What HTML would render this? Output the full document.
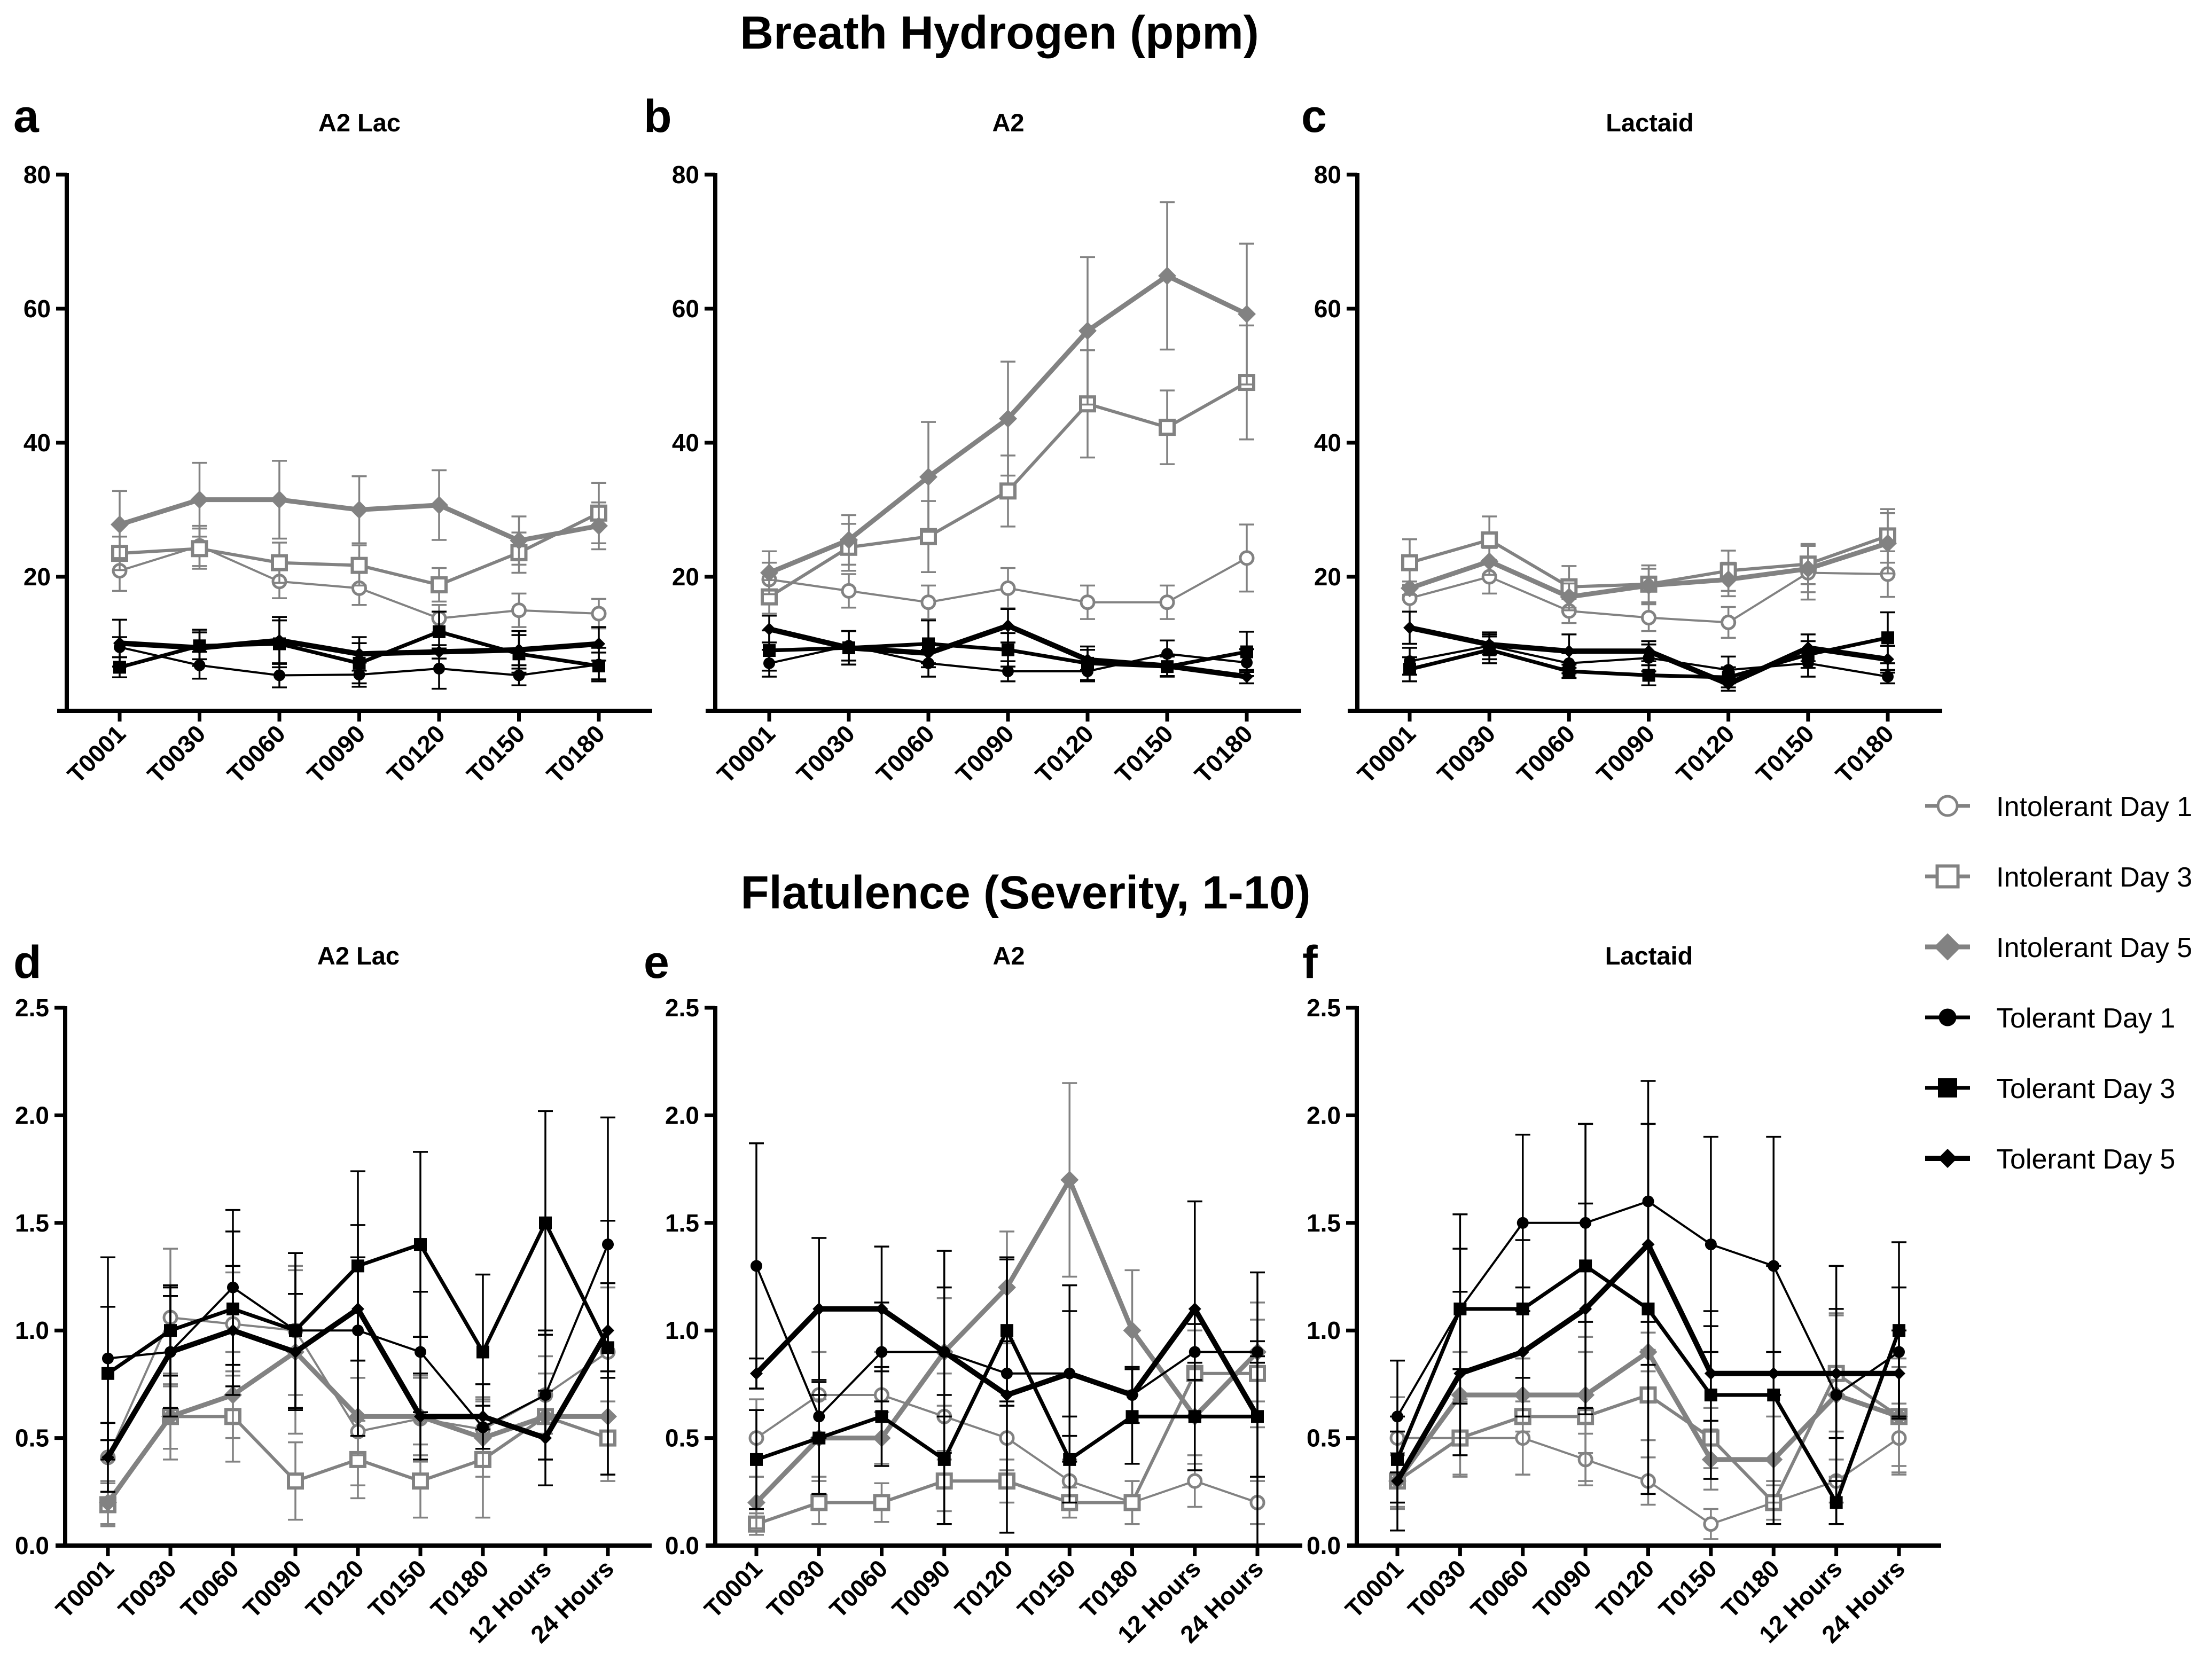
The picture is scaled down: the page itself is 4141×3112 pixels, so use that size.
<!DOCTYPE html>
<html><head><meta charset="utf-8"><style>
html,body{margin:0;padding:0;background:#fff;}
svg{display:block;font-family:"Liberation Sans",Arial,sans-serif;}
</style></head><body>
<svg id="chart" width="4141" height="3112" viewBox="0 0 4141 3112" xmlns="http://www.w3.org/2000/svg">
<rect width="4141" height="3112" fill="#fff"/>
<text x="1871" y="91" font-size="87" font-weight="bold" text-anchor="middle">Breath Hydrogen (ppm)</text>
<text x="1920" y="1701" font-size="87" font-weight="bold" text-anchor="middle">Flatulence (Severity, 1-10)</text>
<g id="panels"></g>
<g id="legend"></g>
</svg>
<script>
// ---- data ----
const hCategories = ["T0001","T0030","T0060","T0090","T0120","T0150","T0180"];
const fCategories = ["T0001","T0030","T0060","T0090","T0120","T0150","T0180","12 Hours","24 Hours"];
const hTicks = [20,40,60,80];
const fTicks = ["0.0","0.5","1.0","1.5","2.0","2.5"];
const seriesNames = ["Intolerant Day 1","Intolerant Day 3","Intolerant Day 5","Tolerant Day 1","Tolerant Day 3","Tolerant Day 5"];

// Panel a: A2 Lac breath hydrogen
const aIntD1 = [20.9,24.6,19.3,18.3,13.8,15.0,14.5];
const aIntD3 = [23.5,24.2,22.1,21.7,18.8,23.6,29.5];
const aIntD5 = [27.8,31.5,31.5,30.0,30.7,25.4,27.6];
const aTolD1 = [9.5,6.8,5.3,5.4,6.3,5.3,6.9];
const aTolD3 = [6.5,9.7,10.0,7.1,11.8,8.5,6.7];
const aTolD5 = [10.1,9.4,10.5,8.5,8.8,9.1,10.0];
const aErrI1 = [3,3,2.5,2.5,2,2.5,2.2];
const aErrI3 = [2.5,3,3,3,2.5,3,4.5];
const aErrI5 = [5,5.5,5.8,5,5.2,3.6,3.5];
const aErrT1 = [1.5,2,1.8,1.8,3,1.5,2.5];
const aErrT3 = [1.5,2,3.5,3,3,2.8,2];
const aErrT5 = [3.5,2.7,3.5,2.5,1,2.8,2.5];

// Panel b: A2 breath hydrogen
const bIntD1 = [19.6,17.9,16.2,18.3,16.2,16.2,22.8];
const bIntD3 = [17.0,24.4,26.0,32.8,45.8,42.3,49.0];
const bIntD5 = [20.6,25.5,34.9,43.6,56.7,64.9,59.2];
const bTolD1 = [7.1,9.7,7.1,5.9,5.9,8.5,7.2];
const bTolD3 = [9.0,9.4,10.0,9.1,7.1,6.6,8.8];
const bTolD5 = [12.2,9.4,8.6,12.7,7.6,6.7,5.1];
const bErrI1 = [2.5,2.5,2.5,3,2.5,2.5,5];
const bErrI3 = [2.5,3.5,5.3,5.3,8,5.5,8.5];
const bErrI5 = [3.2,3.7,8.2,8.5,11,11,10.5];
const bErrT1 = [2,2.2,2,1.5,1.5,2,2];
const bErrT3 = [3,2.5,3.5,2.5,2.5,1.5,3];
const bErrT5 = [2,2.5,1.5,2.5,1.5,1.5,1];

// Panel c: Lactaid breath hydrogen
const cIntD1 = [16.8,20.0,14.9,13.9,13.2,20.6,20.4];
const cIntD3 = [22.1,25.5,18.5,18.9,20.9,21.9,26.1];
const cIntD5 = [18.3,22.3,17.0,18.7,19.6,21.2,25.0];
const cTolD1 = [7.4,9.7,7.1,7.9,6.1,7.1,5.1];
const cTolD3 = [6.2,9.1,5.9,5.3,5.0,8.4,10.9];
const cTolD5 = [12.4,9.9,8.9,8.9,4.0,9.4,7.7];
const cErrI1 = [2,2.5,1.8,2,2.3,4,3.4];
const cErrI3 = [3.5,3.5,3.1,2.8,3,3,4];
const cErrI5 = [1,2,2,2.5,2.5,3.5,4.5];
const cErrT1 = [2,2,1.5,2,2,2,1];
const cErrT3 = [1.8,2,1,1.5,1.5,2,3.8];
const cErrT5 = [2.4,1.5,2.5,1.5,1,2,2];

// Panel d: A2 Lac flatulence
const dIntD1 = [0.41,1.06,1.03,1.0,0.53,0.59,0.54,0.7,0.9];
const dIntD3 = [0.19,0.6,0.6,0.3,0.4,0.3,0.4,0.6,0.5];
const dIntD5 = [0.2,0.6,0.7,0.9,0.6,0.6,0.5,0.6,0.6];
const dTolD1 = [0.87,0.9,1.2,1.0,1.0,0.9,0.55,0.7,1.4];
const dTolD3 = [0.8,1.0,1.1,1.0,1.3,1.4,0.9,1.5,0.92];
const dTolD5 = [0.41,0.9,1.0,0.9,1.1,0.6,0.6,0.5,1.0];
const dErrI1 = [0.16,0.32,0.24,0.3,0.25,0.2,0.15,0.18,0.3];
const dErrI3 = [0.1,0.2,0.21,0.18,0.18,0.17,0.27,0.2,0.17];
const dErrI5 = [0.1,0.15,0.2,0.38,0.18,0.18,0.18,0.2,0.3];
const dErrT1 = [0.47,0.26,0.36,0.36,0.49,0.28,0.1,0.3,0.59];
const dErrT3 = [0.31,0.21,0.36,0.36,0.44,0.43,0.36,0.52,0.59];
const dErrT5 = [0.16,0.3,0.3,0.27,0.24,0.2,0.15,0.22,0.22];

// Panel e: A2 flatulence
const eIntD1 = [0.5,0.7,0.7,0.6,0.5,0.3,0.2,0.3,0.2];
const eIntD3 = [0.1,0.2,0.2,0.3,0.3,0.2,0.2,0.8,0.8];
const eIntD5 = [0.2,0.5,0.5,0.9,1.2,1.7,1.0,0.6,0.9];
const eTolD1 = [1.3,0.6,0.9,0.9,0.8,0.8,0.7,0.9,0.9];
const eTolD3 = [0.4,0.5,0.6,0.4,1.0,0.4,0.6,0.6,0.6];
const eTolD5 = [0.8,1.1,1.1,0.9,0.7,0.8,0.7,1.1,0.6];
const eErrI1 = [0.18,0.2,0.2,0.2,0.15,0.1,0.1,0.12,0.1];
const eErrI3 = [0.05,0.1,0.09,0.14,0.1,0.07,0.1,0.2,0.25];
const eErrI5 = [0.12,0.18,0.12,0.25,0.26,0.45,0.28,0.22,0.23];
const eErrT1 = [0.57,0.1,0.23,0.3,0.15,0.29,0.13,0.13,0.05];
const eErrT3 = [0.23,0.26,0.23,0.3,0.33,0.2,0.22,0.25,0.67];
const eErrT5 = [0.07,0.33,0.29,0.47,0.64,0.41,0.13,0.5,0.28];

// Panel f: Lactaid flatulence
const fIntD1 = [0.5,0.5,0.5,0.4,0.3,0.1,0.2,0.3,0.5];
const fIntD3 = [0.3,0.5,0.6,0.6,0.7,0.5,0.2,0.8,0.6];
const fIntD5 = [0.3,0.7,0.7,0.7,0.9,0.4,0.4,0.7,0.6];
const fTolD1 = [0.6,1.1,1.5,1.5,1.6,1.4,1.3,0.7,0.9];
const fTolD3 = [0.4,1.1,1.1,1.3,1.1,0.7,0.7,0.2,1.0];
const fTolD5 = [0.3,0.8,0.9,1.1,1.4,0.8,0.8,0.8,0.8];
const fErrI1 = [0.19,0.17,0.17,0.12,0.11,0.07,0.08,0.1,0.16];
const fErrI3 = [0.12,0.18,0.27,0.3,0.21,0.14,0.1,0.27,0.27];
const fErrI5 = [0.13,0.2,0.17,0.27,0.09,0.14,0.2,0.38,0.23];
const fErrT1 = [0.26,0.44,0.41,0.46,0.56,0.5,0.6,0.6,0.3];
const fErrT3 = [0.2,0.28,0.32,0.66,0.86,0.39,0.6,0.1,0.41];
const fErrT5 = [0.23,0.38,0.3,0.49,0.56,0.22,0.1,0.3,0.2];

// ---- drawing ----
const NS = "http://www.w3.org/2000/svg";
const GRAY = "#828282", BLACK = "#000";
const styles = [
  {color:GRAY, lw:4, marker:"circle", fill:"none", size:12, ms:5},
  {color:GRAY, lw:6, marker:"square", fill:"none", size:13, ms:6},
  {color:GRAY, lw:9, marker:"diamond", fill:GRAY, size:17, ms:0},
  {color:BLACK, lw:4, marker:"circle", fill:BLACK, size:11, ms:0},
  {color:BLACK, lw:7, marker:"square", fill:BLACK, size:12, ms:0},
  {color:BLACK, lw:10, marker:"diamond", fill:BLACK, size:12, ms:0}
];
function el(tag, attrs, parent){
  const e = document.createElementNS(NS, tag);
  for (const k in attrs) e.setAttribute(k, attrs[k]);
  parent.appendChild(e);
  return e;
}
function drawMarker(g, st, x, y){
  let m;
  const s = st.size;
  if (st.marker === "circle") m = el("circle",{cx:x,cy:y,r:s,fill:st.fill==="none"?"#fff":st.fill,stroke:st.color,"stroke-width":st.ms||0},g);
  else if (st.marker === "square") m = el("rect",{x:x-s,y:y-s,width:2*s,height:2*s,fill:st.fill==="none"?"#fff":st.fill,stroke:st.color,"stroke-width":st.ms||0},g);
  else m = el("polygon",{points:`${x},${y-s} ${x+s},${y} ${x},${y+s} ${x-s},${y}`,fill:st.fill},g);
  
  
}

const panelsG = document.getElementById("panels");
function drawPanel(p){
  const g = el("g",{},panelsG);
  
  
  const yScale = v => p.yBot - (v - p.yMin)/(p.yMax - p.yMin)*(p.yBot - p.yTop);
  const n = p.cats.length;
  const xScale = i => p.x0 + i*(p.x1 - p.x0)/(n-1);
  const L = el("text",{x:p.letterX,y:p.letterY,"font-size":86,"font-weight":"bold"},g);
  L.textContent = p.letter;
  
  
  const T = el("text",{x:(p.axX+p.xEnd)/2,y:p.titleY,"font-size":47,"font-weight":"bold","text-anchor":"middle"},g);
  T.textContent = p.title;
  
  
  const yAx = el("line",{x1:p.axX,y1:p.yTop-3,x2:p.axX,y2:p.yBot+4,stroke:"#000","stroke-width":8},g);
  
  
  const xAx = el("line",{x1:p.axX-18,y1:p.yBot,x2:p.xEnd,y2:p.yBot,stroke:"#000","stroke-width":8},g);
  
  
  p.ticks.forEach(t=>{
    const v = parseFloat(t), y = yScale(v);
    if (v !== p.yMin) el("line",{x1:p.axX-20,y1:y,x2:p.axX,y2:y,stroke:"#000","stroke-width":7},g);
    const tl = el("text",{x:p.axX-30,y:y+16,"font-size":46,"font-weight":"bold","text-anchor":"end"},g);
    tl.textContent = t;
    
    
  });
  p.cats.forEach((c,i)=>{
    const x = xScale(i);
    el("line",{x1:x,y1:p.yBot,x2:x,y2:p.yBot+20,stroke:"#000","stroke-width":7},g);
    const tl = el("text",{x:x+14,y:p.yBot+46,"font-size":46,"font-weight":"bold","text-anchor":"end",transform:`rotate(-45 ${x+14} ${p.yBot+46})`},g);
    tl.textContent = c;
    
    
  });
  p.series.forEach((vals,si)=>{
    const st = styles[si];
    const sg = el("g",{},g);
    
    
    const errs = p.errs[si];
    vals.forEach((v,i)=>{
      const x = xScale(i), yt = yScale(v+errs[i]), yb = yScale(Math.max(p.yMin, v-errs[i]));
      el("line",{x1:x,y1:yt,x2:x,y2:yb,stroke:st.color,"stroke-width":3.5},sg);
      el("line",{x1:x-14,y1:yt,x2:x+14,y2:yt,stroke:st.color,"stroke-width":3.5},sg);
      el("line",{x1:x-14,y1:yb,x2:x+14,y2:yb,stroke:st.color,"stroke-width":3.5},sg);
    });
    const pts = vals.map((v,i)=>xScale(i)+","+yScale(v)).join(" ");
    const pl = el("polyline",{points:pts,fill:"none",stroke:st.color,"stroke-width":st.lw,"stroke-linejoin":"miter"},sg);
    
    
    vals.forEach((v,i)=>drawMarker(sg, st, xScale(i), yScale(v)));
  });
}
const TOP = {yTop:327,yBot:1331,yMin:0,yMax:80,ticks:hTicks.map(String),cats:hCategories,titleY:246,letterY:247};
const BOT = {yTop:1887,yBot:2894,yMin:0,yMax:2.5,ticks:fTicks,cats:fCategories,titleY:1806,letterY:1831};
const panels = [
  Object.assign({},TOP,{letter:"a",title:"A2 Lac",letterX:25,axX:125,x0:224,x1:1121,xEnd:1221,series:[aIntD1,aIntD3,aIntD5,aTolD1,aTolD3,aTolD5],errs:[aErrI1,aErrI3,aErrI5,aErrT1,aErrT3,aErrT5]}),
  Object.assign({},TOP,{letter:"b",title:"A2",letterX:1205,axX:1339,x0:1440,x1:2334,xEnd:2436,series:[bIntD1,bIntD3,bIntD5,bTolD1,bTolD3,bTolD5],errs:[bErrI1,bErrI3,bErrI5,bErrT1,bErrT3,bErrT5]}),
  Object.assign({},TOP,{letter:"c",title:"Lactaid",letterX:2436,axX:2541,x0:2639,x1:3534,xEnd:3636,series:[cIntD1,cIntD3,cIntD5,cTolD1,cTolD3,cTolD5],errs:[cErrI1,cErrI3,cErrI5,cErrT1,cErrT3,cErrT5]}),
  Object.assign({},BOT,{letter:"d",title:"A2 Lac",letterX:25,axX:122,x0:202,x1:1138,xEnd:1220,series:[dIntD1,dIntD3,dIntD5,dTolD1,dTolD3,dTolD5],errs:[dErrI1,dErrI3,dErrI5,dErrT1,dErrT3,dErrT5]}),
  Object.assign({},BOT,{letter:"e",title:"A2",letterX:1205,axX:1339,x0:1416,x1:2354,xEnd:2438,series:[eIntD1,eIntD3,eIntD5,eTolD1,eTolD3,eTolD5],errs:[eErrI1,eErrI3,eErrI5,eErrT1,eErrT3,eErrT5]}),
  Object.assign({},BOT,{letter:"f",title:"Lactaid",letterX:2438,axX:2540,x0:2616,x1:3555,xEnd:3634,series:[fIntD1,fIntD3,fIntD5,fTolD1,fTolD3,fTolD5],errs:[fErrI1,fErrI3,fErrI5,fErrT1,fErrT3,fErrT5]})
];
panels.forEach(drawPanel);

const lg = document.getElementById("legend");
seriesNames.forEach((name,i)=>{
  const st = styles[i];
  const y = 1509 + i*132;
  const eg = el("g",{},lg);
  
  
  el("line",{x1:3604,y1:y,x2:3688,y2:y,stroke:st.color,"stroke-width":Math.max(st.lw,7)},eg);
  const legSt = Object.assign({},st,{size:st.size*1.5});
  drawMarker(eg, legSt, 3646, y);
  const t = el("text",{x:3737,y:y+19,"font-size":52},eg);
  t.textContent = name;
  
  
});
</script>
</body></html>
